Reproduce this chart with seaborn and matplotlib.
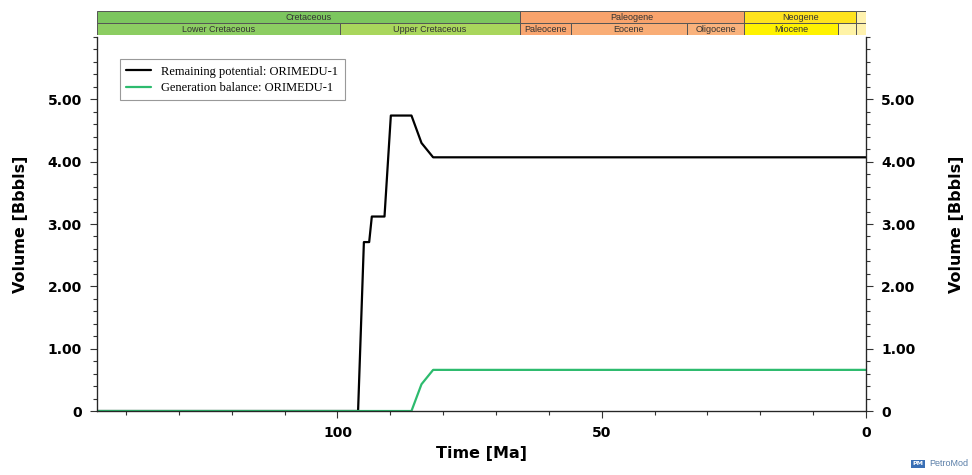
import matplotlib
matplotlib.use("Agg")
import matplotlib.pyplot as plt
from matplotlib.ticker import MultipleLocator
import seaborn as sns
import pandas as pd

# curve data (age in Ma, volume in Bbbls)
remaining_age = [145.5, 96.1, 95.0, 94.0, 93.5, 91.1, 89.9, 86.0, 84.1, 81.9, 0.0]
remaining_vol = [0.0, 0.0, 2.71, 2.71, 3.12, 3.12, 4.74, 4.74, 4.30, 4.07, 4.07]
balance_age = [145.5, 86.0, 84.1, 81.9, 0.0]
balance_vol = [0.0, 0.0, 0.43, 0.66, 0.66]

series_names = ["Remaining potential: ORIMEDU-1", "Generation balance: ORIMEDU-1"]
series_colors = ["#000000", "#2dbb6e"]

# geologic time scale (top row periods, bottom row epochs)
period_names = ["Cretaceous", "Paleogene", "Neogene", ""]
period_start = [145.5, 65.5, 23.03, 1.8]
period_end = [65.5, 23.03, 1.8, 0.0]
period_colors = ["#7cc65e", "#f8a36c", "#ffe31e", "#fff2ae"]

epoch_names = ["Lower Cretaceous", "Upper Cretaceous", "Paleocene", "Eocene",
               "Oligocene", "Miocene", "", ""]
epoch_start = [145.5, 99.6, 65.5, 55.8, 33.9, 23.03, 5.33, 1.8]
epoch_end = [99.6, 65.5, 55.8, 33.9, 23.03, 5.33, 1.8, 0.0]
epoch_colors = ["#8ccd62", "#a9d65c", "#f9a670", "#f9ad76", "#f9b27c",
                "#fff200", "#fff3a6", "#fff2ae"]

x_ticks = [100, 50, 0]
y_ticks = [0, 1, 2, 3, 4, 5]
y_ticklabels = ["0", "1.00", "2.00", "3.00", "4.00", "5.00"]

sns.set_style("ticks")
plt.rcParams["font.family"] = ["DejaVu Sans"]
plt.rcParams["text.color"] = "black"
plt.rcParams["axes.labelcolor"] = "black"
plt.rcParams["xtick.labelcolor"] = "black"
plt.rcParams["ytick.labelcolor"] = "black"

df = pd.concat([
    pd.DataFrame({"age": remaining_age, "vol": remaining_vol, "series": series_names[0]}),
    pd.DataFrame({"age": balance_age, "vol": balance_vol, "series": series_names[1]}),
])

fig = plt.figure(figsize=(9.72, 4.75), dpi=100)
ax = fig.add_axes([0.0998, 0.1347, 0.7911, 0.7874])
ax_ts = fig.add_axes([0.0998, 0.9263, 0.7911, 0.0505], sharex=ax)

sns.lineplot(data=df, x="age", y="vol", hue="series", palette=series_colors,
             linewidth=1.6, ax=ax, sort=False, estimator=None)

ax.set_xlim(145.5, 0)
ax.set_ylim(0, 6)
ax.set_xticks(x_ticks)
ax.set_xticklabels([str(t) for t in x_ticks])
ax.xaxis.set_minor_locator(MultipleLocator(10))
ax.set_yticks(y_ticks)
ax.set_yticklabels(y_ticklabels)
ax.yaxis.set_minor_locator(MultipleLocator(0.2))
ax.tick_params(which="both", direction="out", width=0.8, color="#333333")
ax.tick_params(which="major", length=5, labelsize=10, pad=6)
ax.tick_params(which="minor", length=3)
for lab in ax.get_xticklabels() + ax.get_yticklabels():
    lab.set_fontweight("bold")
ax.spines["top"].set_visible(False)
for s in ["left", "bottom", "right"]:
    ax.spines[s].set_color("#222222")
    ax.spines[s].set_linewidth(0.9)

ax.set_xlabel("Time [Ma]", fontsize=11.5, fontweight="bold", labelpad=4)
ax.set_ylabel("Volume [Bbbls]", fontsize=11.5, fontweight="bold", labelpad=14)

# right-hand axis repeats the volume scale
ax2 = ax.twinx()
ax2.set_ylim(0, 6)
ax2.set_yticks(y_ticks)
ax2.set_yticklabels(y_ticklabels)
ax2.yaxis.set_minor_locator(MultipleLocator(0.2))
ax2.tick_params(which="both", direction="out", width=0.8, color="#333333")
ax2.tick_params(which="major", length=5, labelsize=10, pad=6)
ax2.tick_params(which="minor", length=3)
for lab in ax2.get_yticklabels():
    lab.set_fontweight("bold")
ax2.spines["top"].set_visible(False)
ax2.set_ylabel("Volume [Bbbls]", fontsize=11.5, fontweight="bold", labelpad=24)

leg = ax.legend(handles=ax.get_lines()[:2], labels=series_names, loc="upper left",
                bbox_to_anchor=(0.022, 0.957), frameon=True, fancybox=False,
                edgecolor="#999999", framealpha=1, handlelength=2.0,
                borderpad=0.5, labelspacing=0.35,
                prop={"family": "Liberation Serif", "size": 9})
leg.get_frame().set_linewidth(0.8)

# time scale bar
ax_ts.barh([1] * len(period_names),
           [s - e for s, e in zip(period_start, period_end)],
           left=period_end, height=1, color=period_colors,
           edgecolor="#555555", linewidth=0.7)
ax_ts.barh([0] * len(epoch_names),
           [s - e for s, e in zip(epoch_start, epoch_end)],
           left=epoch_end, height=1, color=epoch_colors,
           edgecolor="#555555", linewidth=0.7)
for name, s, e in zip(period_names, period_start, period_end):
    if name:
        ax_ts.text((s + e) / 2, 1, name, ha="center", va="center",
                   fontsize=6.5, family="Liberation Sans", color="#333333")
for name, s, e in zip(epoch_names, epoch_start, epoch_end):
    if name:
        ax_ts.text((s + e) / 2, 0, name, ha="center", va="center",
                   fontsize=6.5, family="Liberation Sans", color="#333333")
ax_ts.set_ylim(-0.5, 1.5)
ax_ts.axis("off")

# PetroMod logo
fig.text(0.944, 0.0235, "PM", fontsize=4.5, color="white", fontweight="bold",
         ha="center", va="center",
         bbox=dict(boxstyle="square,pad=0.25", fc="#3a6fb5", ec="none"))
fig.text(0.996, 0.0235, "PetroMod", fontsize=6.5, color="#5b7fa8",
         family="Liberation Sans", ha="right", va="center")

fig.savefig("out.png", dpi=100)
